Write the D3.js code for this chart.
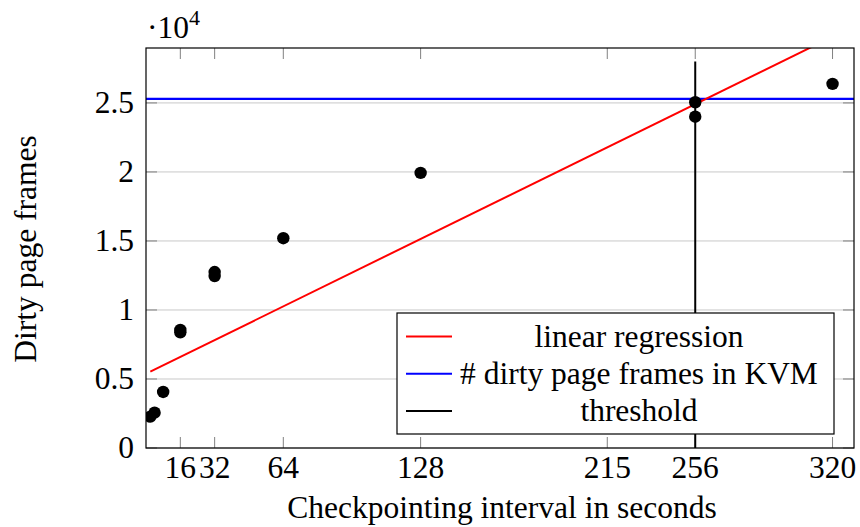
<html>
<head>
<script src="https://d3js.org/d3.v7.min.js"></script>
<style>
  body { margin: 0; background: #fff; }
  .grid line { stroke: #c8c8c8; stroke-width: 1px; }
  .tick-mark { stroke: #808080; stroke-width: 1px; }
</style>
</head>
<body>
<svg id="chart"></svg>
<script>
// data
var intervals = [2, 4, 8, 16, 16, 32, 32, 64, 128, 256, 256, 320];
var dirtyFrames = [2270, 2560, 4060, 8550, 8380, 12750, 12460, 15200, 19930, 25050, 24000, 26380];
var regression = [{x: 2, y: 5530}, {x: 330, y: 30560}];
var kvmFrames = 25300;
var threshold = {x: 256, y0: 0, y1: 28000};
var xTicks = [16, 32, 64, 128, 215, 256, 320];
var yTicks = [0, 5000, 10000, 15000, 20000, 25000];
var legendItems = [
  {label: "linear regression", color: "#ff0000"},
  {label: "# dirty page frames in KVM", color: "#0000ff"},
  {label: "threshold", color: "#000000"}
];

var W = 860, H = 527;
var m = {left: 146, right: 854, top: 48, bottom: 448};
var FONT = "Liberation Serif";

var svg = d3.select("#chart").attr("width", W).attr("height", H);

function label(sel, size) {
  return sel.append("text").attr("font-family", FONT).attr("font-size", size || 31.5).attr("fill", "#000");
}

var x = d3.scaleLinear().domain([0, 330]).range([m.left, m.right]);
var y = d3.scaleLinear().domain([0, 28980]).range([m.bottom, m.top]);

svg.append("clipPath").attr("id", "clip")
  .append("rect")
  .attr("x", m.left).attr("y", m.top)
  .attr("width", m.right - m.left).attr("height", m.bottom - m.top);

// horizontal grid
svg.append("g").attr("class", "grid")
  .selectAll("line").data(yTicks).enter().append("line")
  .attr("x1", m.left).attr("x2", m.right)
  .attr("y1", function(d) { return y(d); })
  .attr("y2", function(d) { return y(d); });

// ticks on all four sides, pointing inward
var tl = 11;
var tk = svg.append("g");
xTicks.forEach(function(d) {
  tk.append("line").attr("class", "tick-mark")
    .attr("x1", x(d)).attr("x2", x(d)).attr("y1", m.bottom).attr("y2", m.bottom - tl);
  tk.append("line").attr("class", "tick-mark")
    .attr("x1", x(d)).attr("x2", x(d)).attr("y1", m.top).attr("y2", m.top + tl);
});
yTicks.forEach(function(d) {
  tk.append("line").attr("class", "tick-mark")
    .attr("x1", m.left).attr("x2", m.left + tl).attr("y1", y(d)).attr("y2", y(d));
  tk.append("line").attr("class", "tick-mark")
    .attr("x1", m.right).attr("x2", m.right - tl).attr("y1", y(d)).attr("y2", y(d));
});

var plot = svg.append("g").attr("clip-path", "url(#clip)");

// KVM level
plot.append("line")
  .attr("x1", m.left).attr("x2", m.right)
  .attr("y1", y(kvmFrames)).attr("y2", y(kvmFrames))
  .attr("stroke", "#0000ff").attr("stroke-width", 2.2);

// regression
plot.append("path")
  .datum(regression)
  .attr("d", d3.line().x(function(d) { return x(d.x); }).y(function(d) { return y(d.y); }))
  .attr("fill", "none").attr("stroke", "#ff0000").attr("stroke-width", 2);

// threshold
plot.append("line")
  .attr("x1", x(threshold.x)).attr("x2", x(threshold.x))
  .attr("y1", y(threshold.y0)).attr("y2", y(threshold.y1))
  .attr("stroke", "#000").attr("stroke-width", 2);

// measured points
plot.selectAll("circle").data(intervals).enter().append("circle")
  .attr("cx", function(d) { return x(d); })
  .attr("cy", function(d, i) { return y(dirtyFrames[i]); })
  .attr("r", 6.2)
  .attr("fill", "#000");

// axis box
svg.append("rect")
  .attr("x", m.left).attr("y", m.top)
  .attr("width", m.right - m.left).attr("height", m.bottom - m.top)
  .attr("fill", "none").attr("stroke", "#000").attr("stroke-width", 1.2);

// tick labels
var xl = svg.append("g");
xTicks.forEach(function(d) {
  label(xl).attr("x", x(d)).attr("y", 478).attr("text-anchor", "middle").text(d);
});
var yl = svg.append("g");
yTicks.forEach(function(d) {
  label(yl).attr("x", 134).attr("y", y(d) + 10).attr("text-anchor", "end").text(d / 10000);
});

// scale factor
var sf = label(svg).attr("x", 147).attr("y", 38);
sf.append("tspan").text("\u00b710");
sf.append("tspan").attr("dy", -13).attr("font-size", 22).text("4");

// axis titles
label(svg)
  .attr("x", (m.left + m.right) / 2 + 2)
  .attr("y", 518)
  .attr("text-anchor", "middle")
  .text("Checkpointing interval in seconds");

label(svg)
  .attr("transform", "translate(36," + ((m.top + m.bottom) / 2 + 1) + ") rotate(-90)")
  .attr("text-anchor", "middle")
  .text("Dirty page frames");

// legend
var lg = svg.append("g");
lg.append("rect")
  .attr("x", 397).attr("y", 313).attr("width", 437).attr("height", 121)
  .attr("fill", "#fff").attr("stroke", "#000").attr("stroke-width", 1.2);
legendItems.forEach(function(d, i) {
  var ly = 336.5 + i * 37.3;
  lg.append("line")
    .attr("x1", 406).attr("x2", 452).attr("y1", ly).attr("y2", ly)
    .attr("stroke", d.color).attr("stroke-width", 2);
  label(lg).attr("x", 639).attr("y", ly + 10)
    .attr("text-anchor", "middle")
    .text(d.label);
});
</script>
</body>
</html>
